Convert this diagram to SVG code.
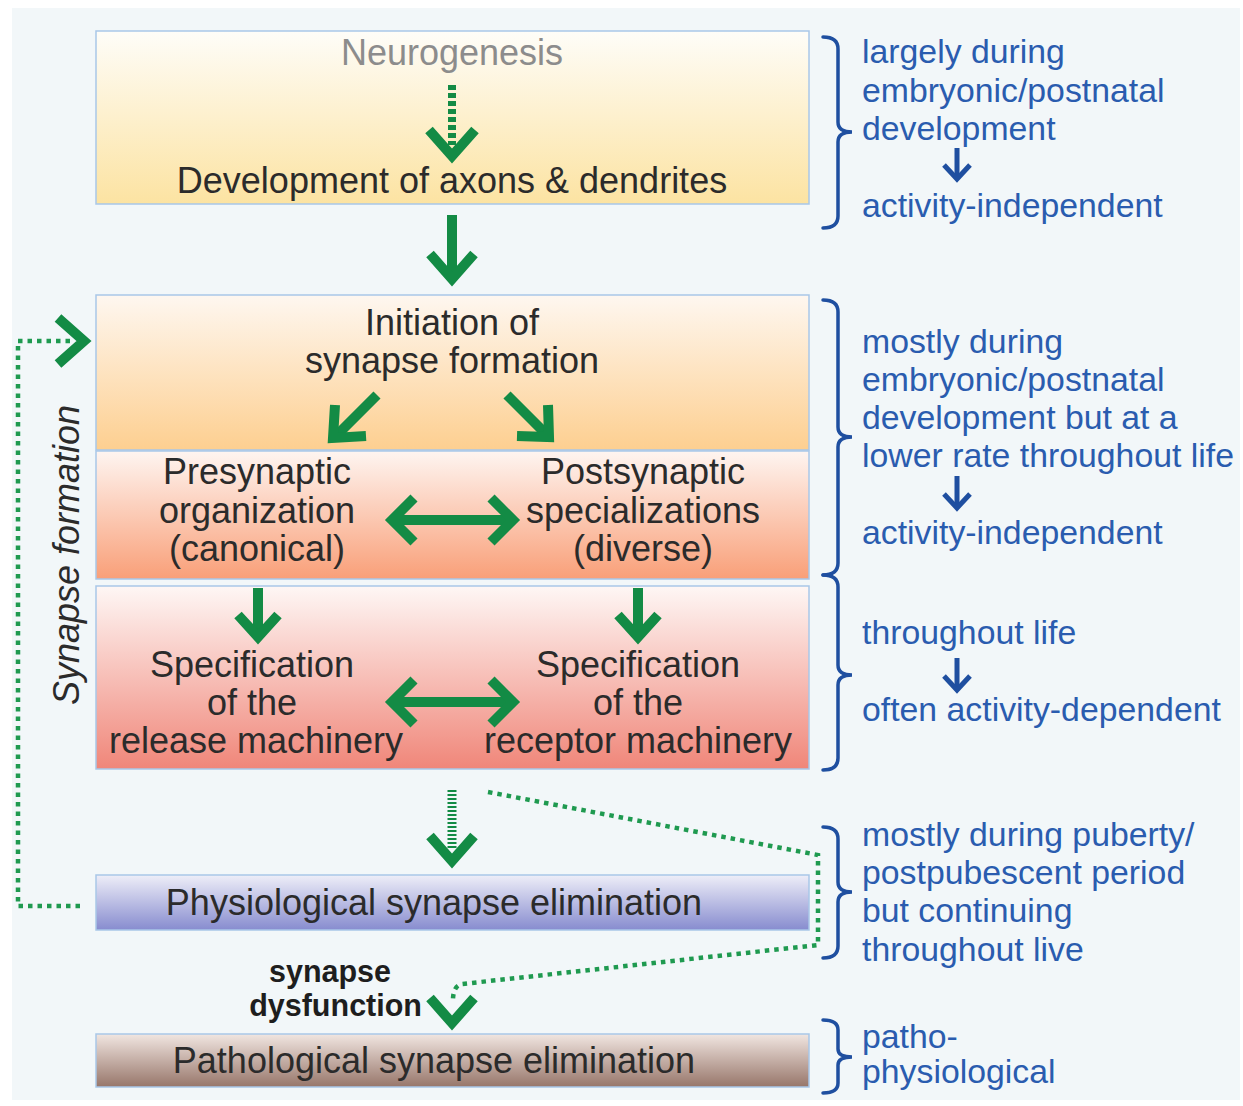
<svg xmlns="http://www.w3.org/2000/svg" width="1243" height="1106" viewBox="0 0 1243 1106">
  <defs>
    <linearGradient id="gYellow" x1="0" y1="0" x2="0" y2="1">
      <stop offset="0" stop-color="#fefdf8"/>
      <stop offset="1" stop-color="#fce3a2"/>
    </linearGradient>
    <linearGradient id="gOrange" x1="0" y1="0" x2="0" y2="1">
      <stop offset="0" stop-color="#fef7f0"/>
      <stop offset="1" stop-color="#fdcf90"/>
    </linearGradient>
    <linearGradient id="gSalmon" x1="0" y1="0" x2="0" y2="1">
      <stop offset="0" stop-color="#fef5f1"/>
      <stop offset="1" stop-color="#f99f78"/>
    </linearGradient>
    <linearGradient id="gRed" x1="0" y1="0" x2="0" y2="1">
      <stop offset="0" stop-color="#fef7f5"/>
      <stop offset="1" stop-color="#f08679"/>
    </linearGradient>
    <linearGradient id="gViolet" x1="0" y1="0" x2="0" y2="1">
      <stop offset="0" stop-color="#eeeef8"/>
      <stop offset="1" stop-color="#878ccf"/>
    </linearGradient>
    <linearGradient id="gBrown" x1="0" y1="0" x2="0" y2="1">
      <stop offset="0" stop-color="#f1e6e1"/>
      <stop offset="1" stop-color="#97766a"/>
    </linearGradient>
  </defs>
  <style>
    .box { stroke: #a9c7e8; stroke-width: 1.5; }
    .t { font-family: "Liberation Sans", Arial, sans-serif; font-size: 36px; fill: #2b2b2b; text-anchor: middle; }
    .note { font-family: "Liberation Sans", Arial, sans-serif; font-size: 33.8px; fill: #2a5caf; }
    .bold { font-family: "Liberation Sans", Arial, sans-serif; font-size: 30.5px; font-weight: bold; fill: #1e1e1e; }
    .arrow { fill: none; stroke: #138b45; stroke-width: 10; stroke-linejoin: miter; stroke-linecap: butt; }
    .dots { fill: none; stroke: #1f9a50; stroke-width: 4.5; stroke-dasharray: 4.5 5; }
    .brace { fill: none; stroke: #1f4fa0; stroke-width: 3.5; stroke-linecap: round; }
    .barrow { fill: none; stroke: #1f4fa0; stroke-width: 5; }
  </style>

  <!-- page background -->
  <rect x="0" y="0" width="1243" height="1106" fill="#ffffff"/>
  <rect x="12" y="8" width="1228" height="1092" fill="#f2f7f9"/>

  <!-- stage boxes -->
  <g id="node-development">
    <rect class="box" x="96" y="31" width="713" height="173" fill="url(#gYellow)"/>
    <text class="t" x="452" y="65" style="fill:#8c8c8c">Neurogenesis</text>
    <text class="t" x="452" y="193">Development of axons &amp; dendrites</text>
  </g>

  <g id="node-initiation">
    <rect class="box" x="96" y="295" width="713" height="155" fill="url(#gOrange)"/>
    <text class="t" x="452" y="335">Initiation of</text>
    <text class="t" x="452" y="373">synapse formation</text>
  </g>

  <g id="node-organization">
    <rect class="box" x="96" y="451" width="713" height="128" fill="url(#gSalmon)"/>
    <text class="t" x="257" y="484">Presynaptic</text>
    <text class="t" x="257" y="523">organization</text>
    <text class="t" x="257" y="561">(canonical)</text>
    <text class="t" x="643" y="484">Postsynaptic</text>
    <text class="t" x="643" y="523">specializations</text>
    <text class="t" x="643" y="561">(diverse)</text>
  </g>

  <g id="node-specification">
    <rect class="box" x="96" y="586" width="713" height="183" fill="url(#gRed)"/>
    <text class="t" x="252" y="677">Specification</text>
    <text class="t" x="252" y="715">of the</text>
    <text class="t" x="256" y="753">release machinery</text>
    <text class="t" x="638" y="677">Specification</text>
    <text class="t" x="638" y="715">of the</text>
    <text class="t" x="638" y="753">receptor machinery</text>
  </g>

  <g id="node-physiological">
    <rect class="box" x="96" y="875" width="713" height="55" fill="url(#gViolet)"/>
    <text class="t" x="434" y="915">Physiological synapse elimination</text>
  </g>

  <g id="node-pathological">
    <rect class="box" x="96" y="1034" width="713" height="53" fill="url(#gBrown)"/>
    <text class="t" x="434" y="1073">Pathological synapse elimination</text>
  </g>

  <g id="label-synapse-formation">
    <text class="t" transform="translate(79,555) rotate(-90)" style="font-style:italic">Synapse formation</text>
  </g>

  <g id="label-dysfunction">
    <text class="bold" x="330" y="982" text-anchor="middle">synapse</text>
    <text class="bold" x="422" y="1016" text-anchor="end">dysfunction</text>
  </g>

  <!-- connectors -->
  <g id="connectors">
    <!-- neurogenesis to axon/dendrite development (dotted shaft) -->
    <line x1="452" y1="85" x2="452" y2="145" stroke="#138b45" stroke-width="8" stroke-dasharray="5 3"/>
    <polyline class="arrow" points="429,130 452,156 475,130"/>

    <!-- development to initiation -->
    <line class="arrow" x1="452" y1="215" x2="452" y2="276"/>
    <polyline class="arrow" points="430,254 452,279 474,254"/>

    <!-- initiation splits -->
    <line class="arrow" x1="377" y1="395" x2="337" y2="435"/>
    <polyline class="arrow" points="335,405 333,438 366,436"/>
    <line class="arrow" x1="507" y1="395" x2="546" y2="434"/>
    <polyline class="arrow" points="548,405 549,437 517,436"/>

    <!-- pre/post reciprocity -->
    <line class="arrow" x1="396" y1="520" x2="509" y2="520"/>
    <polyline class="arrow" points="414,498 392,520 414,542"/>
    <polyline class="arrow" points="491,498 513,520 491,542"/>

    <!-- organization to specification -->
    <line class="arrow" x1="258" y1="588" x2="258" y2="634"/>
    <polyline class="arrow" points="238,615 258,637 278,615"/>
    <line class="arrow" x1="638" y1="588" x2="638" y2="634"/>
    <polyline class="arrow" points="618,615 638,637 658,615"/>

    <!-- release/receptor reciprocity -->
    <line class="arrow" x1="396" y1="702" x2="509" y2="702"/>
    <polyline class="arrow" points="414,680 392,702 414,724"/>
    <polyline class="arrow" points="491,680 513,702 491,724"/>

    <!-- specification to physiological elimination (hatched shaft) -->
    <line x1="452" y1="790" x2="452" y2="848" stroke="#138b45" stroke-width="9" stroke-dasharray="2 2"/>
    <polyline class="arrow" points="430,836 452,861 474,836"/>

    <!-- feedback loop back to initiation -->
    <polyline class="dots" points="80,906 18,906 18,341 70,341"/>
    <polyline class="arrow" points="58,318 84,341 58,364"/>

    <!-- route to synapse dysfunction -->
    <path class="dots" d="M488,792 L818,855 L818,945 L462,984 Q453,986 453,1000"/>
    <polyline class="arrow" points="430,998 452,1023 474,998"/>
  </g>

  <!-- timing annotations -->
  <g id="timing-development">
    <path class="brace" d="M823,37 Q838,37 838,49 L838,122 Q838,132 852,132 Q838,132 838,142 L838,216 Q838,228 823,228"/>
    <text class="note" x="862" y="63">largely during</text>
    <text class="note" x="862" y="102">embryonic/postnatal</text>
    <text class="note" x="862" y="140">development</text>
    <line class="barrow" x1="957" y1="148" x2="957" y2="177"/>
    <polyline class="barrow" points="944,165 957,179 970,165"/>
    <text class="note" x="862" y="217">activity-independent</text>
  </g>

  <g id="timing-formation">
    <path class="brace" d="M823,300 Q838,300 838,312 L838,427 Q838,437 852,437 Q838,437 838,447 L838,563 Q838,575 823,575"/>
    <text class="note" x="862" y="353">mostly during</text>
    <text class="note" x="862" y="391">embryonic/postnatal</text>
    <text class="note" x="862" y="429">development but at a</text>
    <text class="note" x="862" y="467">lower rate throughout life</text>
    <line class="barrow" x1="957" y1="476" x2="957" y2="506"/>
    <polyline class="barrow" points="944,494 957,508 970,494"/>
    <text class="note" x="862" y="544">activity-independent</text>
  </g>

  <g id="timing-specification">
    <path class="brace" d="M823,575 Q838,575 838,587 L838,665 Q838,675 852,675 Q838,675 838,685 L838,758 Q838,770 823,770"/>
    <text class="note" x="862" y="644">throughout life</text>
    <line class="barrow" x1="957" y1="658" x2="957" y2="688"/>
    <polyline class="barrow" points="944,676 957,690 970,676"/>
    <text class="note" x="862" y="721">often activity-dependent</text>
  </g>

  <g id="timing-elimination">
    <path class="brace" d="M823,827 Q838,827 838,839 L838,882 Q838,892 852,892 Q838,892 838,902 L838,946 Q838,958 823,958"/>
    <text class="note" x="862" y="846">mostly during puberty/</text>
    <text class="note" x="862" y="884">postpubescent period</text>
    <text class="note" x="862" y="922">but continuing</text>
    <text class="note" x="862" y="961">throughout live</text>
  </g>

  <g id="timing-pathology">
    <path class="brace" d="M823,1020 Q838,1020 838,1030 L838,1049 Q838,1057 852,1057 Q838,1057 838,1065 L838,1083 Q838,1093 823,1093"/>
    <text class="note" x="862" y="1048">patho-</text>
    <text class="note" x="862" y="1083">physiological</text>
  </g>
</svg>
